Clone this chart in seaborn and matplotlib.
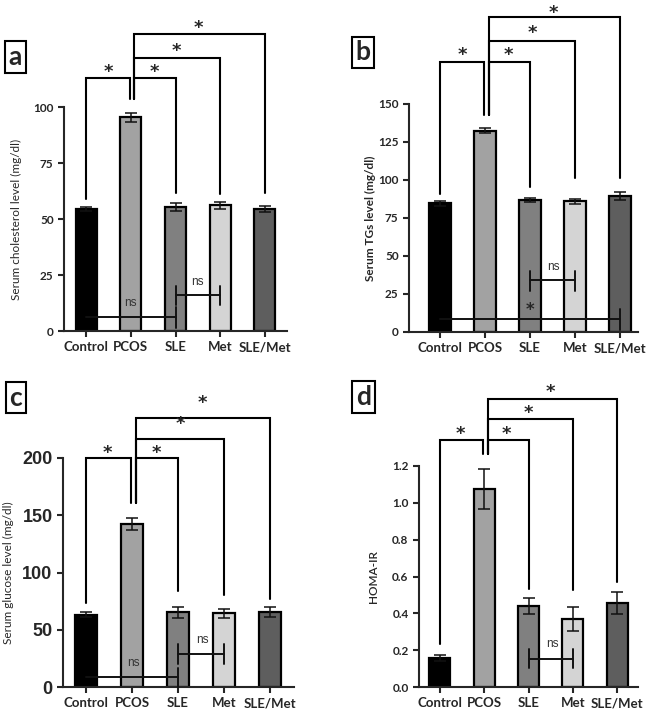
import matplotlib
matplotlib.use("Agg")
import matplotlib.pyplot as plt
import matplotlib.transforms as mtransforms
import seaborn as sns

sns.set_style("ticks")
plt.rcParams["font.family"] = ["Lato", "DejaVu Sans"]

groups = ["Control", "PCOS", "SLE", "Met", "SLE/Met"]
bar_colors = ["#000000", "#a2a2a2", "#808080", "#d4d4d4", "#5e5e5e"]

chol_mean = [54.4, 95.4, 55.4, 56.2, 54.4]
chol_sem = [0.9, 2.0, 1.9, 1.6, 1.2]

tg_mean = [84.6, 132.4, 87.1, 85.9, 89.6]
tg_sem = [1.7, 1.5, 1.3, 1.9, 2.8]

glu_mean = [63.2, 142.5, 65.2, 64.3, 65.4]
glu_sem = [2.5, 5.2, 4.8, 3.9, 4.3]

homa_mean = [0.156, 1.075, 0.441, 0.369, 0.455]
homa_sem = [0.017, 0.108, 0.044, 0.063, 0.060]

W, H = 646, 716


def frac(left, top, right, bottom):
    return [left / W, 1 - bottom / H, (right - left) / W, (bottom - top) / H]


def star(ax, x, y, size=13):
    # asterisk glyph sits high above the baseline, so drop the baseline a bit
    tr = mtransforms.offset_copy(ax.transData, fig=ax.figure, y=-0.56 * size * 1.389,
                                 units="dots")
    ax.text(x, y, "*", ha="center", va="baseline", fontsize=size, fontweight="bold",
            family="DejaVu Sans", transform=tr, clip_on=False, zorder=6)


def bracket(ax, x0, x1, h, y0, y1, lw=1.5):
    ax.plot([x0, x0, x1, x1], [y0, h, h, y1], color="black", lw=lw,
            clip_on=False, solid_joinstyle="miter", zorder=5)


def ns_line(ax, x0, x1, y, tick, label, lx, ly, ticks=(True, True), lab_star=False):
    ax.plot([x0, x1], [y, y], color="#111111", lw=1.4, clip_on=False, zorder=5)
    for x, on in zip((x0, x1), ticks):
        if on:
            ax.plot([x, x], [y - tick[0], y + tick[1]], color="#111111", lw=1.4,
                    clip_on=False, zorder=5)
    if lab_star:
        star(ax, lx, ly, 12)
    else:
        ax.text(lx, ly, label, ha="center", va="center", fontsize=8.5,
                family="Liberation Sans", color="#333333", zorder=6)


def bars(ax, means, sems, xlim, ylim, yticks, ylabel, label_x, label_weight, fmt=None,
         tick_font=None):
    sns.barplot(x=groups, y=means, hue=groups, palette=bar_colors, legend=False,
                edgecolor="black", linewidth=1.6, width=0.47, ax=ax, zorder=2)
    ax.errorbar(range(len(groups)), means, yerr=sems, fmt="none", ecolor="#111111",
                elinewidth=1.1, capsize=4, capthick=1.1, zorder=3)
    ax.set_xlim(*xlim)
    ax.set_ylim(*ylim)
    ax.set_yticks(yticks)
    if fmt:
        ax.set_yticklabels([fmt % t for t in yticks])
    sns.despine(ax=ax)
    for s in ("left", "bottom"):
        ax.spines[s].set_linewidth(1.5)
    ax.tick_params(axis="both", width=1.5, length=4, direction="out")
    for lab in ax.get_xticklabels():
        lab.set_fontweight("bold")
        lab.set_fontsize(9.5)
    for lab in ax.get_yticklabels():
        if tick_font:
            lab.set_family(tick_font)
            lab.set_fontsize(13)
        else:
            lab.set_fontsize(8.5)
        lab.set_fontweight("bold")
    ax.set_xlabel("")
    ax.set_ylabel(ylabel, fontsize=8.5, fontweight=label_weight, va="center")
    ax.yaxis.set_label_coords(label_x, 0.5)
    ax.set_facecolor("white")


fig = plt.figure(figsize=(W / 100, H / 100), dpi=100)
fig.patch.set_facecolor("white")

# panel a
ax = fig.add_axes(frac(64, 107, 287, 331))
bars(ax, chol_mean, chol_sem, (-0.5, 4.5), (0, 100), [0, 25, 50, 75, 100],
     "Serum cholesterol level (mg/dl)", -0.211, "normal")
bracket(ax, 0, 0.98, 113, 59, 103.6)
bracket(ax, 1.08, 2, 113, 103.6, 61.6)
bracket(ax, 1.08, 3, 121.8, 103.6, 61)
bracket(ax, 1.08, 4, 132.6, 103.6, 61.6)
star(ax, 0.5, 118)
star(ax, 1.52, 118)
star(ax, 2.02, 127.3)
star(ax, 2.52, 137.5)
ns_line(ax, 0, 2, 6.2, (5, 4.5), "ns", 1.0, 12.5, ticks=(False, True))
ns_line(ax, 2, 3, 16, (4.5, 4), "ns", 2.48, 22)

# panel b
ax = fig.add_axes(frac(409, 104, 638, 332))
bars(ax, tg_mean, tg_sem, (-0.69, 4.4), (0, 150), [0, 25, 50, 75, 100, 125, 150],
     "Serum TGs level (mg/dl)", -0.170, "bold")
bracket(ax, 0, 0.98, 177.5, 91.1, 142.8)
bracket(ax, 1.08, 2, 177.5, 142.8, 95.1)
bracket(ax, 1.08, 3, 191.5, 142.8, 101)
bracket(ax, 1.08, 4, 207.1, 142.8, 101)
star(ax, 0.5, 185.6)
star(ax, 1.52, 185.6)
star(ax, 2.06, 199.9)
star(ax, 2.52, 213.5)
ns_line(ax, 2, 3, 34, (7, 6.2), "ns", 2.52, 42.8)
ns_line(ax, 0, 4, 8.8, (7.7, 6.6), "*", 2.0, 17.0, ticks=(False, True), lab_star=True)

# panel c
ax = fig.add_axes(frac(63, 458, 294, 687))
bars(ax, glu_mean, glu_sem, (-0.5, 4.52), (0, 200), [0, 50, 100, 150, 200],
     "Serum glucose level (mg/dl)", -0.238, "normal", tick_font="Liberation Sans")
bracket(ax, 0, 0.98, 200, 73.3, 161)
bracket(ax, 1.08, 2, 200, 161, 84)
bracket(ax, 1.08, 3, 216.6, 161, 80)
bracket(ax, 1.08, 4, 234.6, 161, 76.5)
star(ax, 0.47, 209)
star(ax, 1.52, 209)
star(ax, 2.04, 234)
star(ax, 2.52, 252.8)
ns_line(ax, 0, 2, 8.4, (8.4, 8.6), "ns", 1.02, 21, ticks=(False, True))
ns_line(ax, 2, 3, 28.8, (8.8, 8.7), "ns", 2.54, 41)

# panel d
ax = fig.add_axes(frac(419, 466, 638, 687))
bars(ax, homa_mean, homa_sem, (-0.47, 4.47), (0, 1.2), [0, 0.2, 0.4, 0.6, 0.8, 1.0, 1.2],
     "HOMA-IR", -0.21, "semibold", fmt="%.1f")
bracket(ax, 0, 0.98, 1.339, 0.232, 1.263)
bracket(ax, 1.08, 2, 1.339, 1.263, 0.53)
bracket(ax, 1.08, 3, 1.453, 1.263, 0.527)
bracket(ax, 1.08, 4, 1.566, 1.263, 0.572)
star(ax, 0.46, 1.404)
star(ax, 1.51, 1.404)
star(ax, 1.99, 1.517)
star(ax, 2.5, 1.629)
ns_line(ax, 2, 3, 0.154, (0.05, 0.054), "ns", 2.53, 0.232)

# panel letters
for letter, cx, cy in [("a", 15.5, 57), ("b", 363, 52.5), ("c", 16, 397.5), ("d", 363.5, 397)]:
    fig.text(cx / W, 1 - cy / H, letter, ha="center", va="center", fontsize=19,
             fontweight="bold",
             bbox=dict(boxstyle="square,pad=0.15", fc="white", ec="black", lw=1.5))

fig.savefig("out.png", dpi=100, facecolor="white")
